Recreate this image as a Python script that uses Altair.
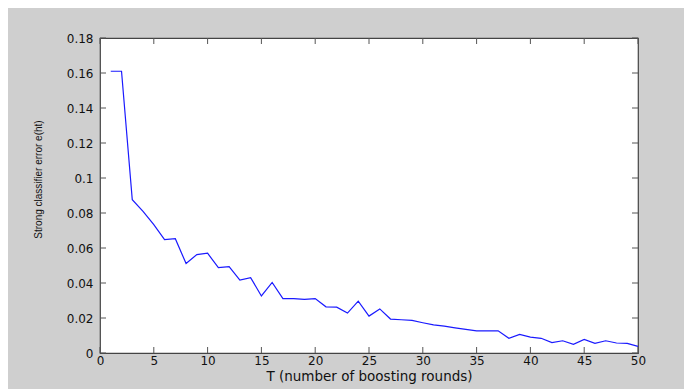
import altair as alt
import pandas as pd

rounds = list(range(1, 51))
errors = [0.161, 0.161, 0.0876, 0.0809, 0.0734, 0.0648, 0.0653, 0.0511, 0.0562, 0.0570,
          0.0488, 0.0494, 0.0416, 0.0431, 0.0326, 0.0403, 0.0311, 0.0311, 0.0306, 0.0311,
          0.0264, 0.0262, 0.0228, 0.0296, 0.0211, 0.0252, 0.0194, 0.0190, 0.0186, 0.0173,
          0.0161, 0.0154, 0.0144, 0.0135, 0.0127, 0.0127, 0.0127, 0.0084, 0.0106, 0.0091,
          0.0084, 0.0059, 0.0070, 0.0050, 0.0078, 0.0055, 0.0070, 0.0057, 0.0055, 0.0038]
x_ticks = [0, 5, 10, 15, 20, 25, 30, 35, 40, 45, 50]
y_ticks = [0, 0.02, 0.04, 0.06, 0.08, 0.1, 0.12, 0.14, 0.16, 0.18]

W, H = 538, 315
TICK = 6

df = pd.DataFrame({"T": rounds, "err": errors})
xdf = pd.DataFrame({"v": x_ticks})
ydf = pd.DataFrame({"v": y_ticks})

xscale = alt.Scale(domain=[0, 50], nice=False, zero=False)
yscale = alt.Scale(domain=[0, 0.18], nice=False, zero=False)

xaxis = alt.Axis(values=x_ticks, title="T (number of boosting rounds)",
                 tickSize=0, domain=False, grid=False, labelPadding=2,
                 labelOverlap=False, labelFlush=False,
                 labelFont="DejaVu Sans", labelFontSize=12, labelColor="#111111",
                 titleFont="DejaVu Sans", titleFontSize=13.5, titleFontWeight="normal",
                 titleColor="#111111", titlePadding=3)
yaxis = alt.Axis(values=y_ticks, format="~g", title="Strong classifier error e(ht)",
                 tickSize=0, domain=False, grid=False, labelPadding=7,
                 labelOverlap=False, labelFlush=False,
                 labelFont="DejaVu Sans", labelFontSize=12, labelColor="#111111",
                 titleFont="Liberation Sans", titleFontSize=10, titleFontWeight="normal",
                 titleColor="#111111", titlePadding=23, titleY=141)

line = alt.Chart(df).mark_line(color="#1a1aff", strokeWidth=1.2).encode(
    x=alt.X("T:Q", scale=xscale, axis=xaxis),
    y=alt.Y("err:Q", scale=yscale, axis=yaxis),
)

tcol = "#555555"
bottom_ticks = alt.Chart(xdf).mark_rule(color=tcol).encode(
    x=alt.X("v:Q", scale=xscale, axis=xaxis), y=alt.value(H), y2=alt.value(H - TICK))
top_ticks = alt.Chart(xdf).mark_rule(color=tcol).encode(
    x=alt.X("v:Q", scale=xscale, axis=xaxis), y=alt.value(0), y2=alt.value(TICK))
left_ticks = alt.Chart(ydf).mark_rule(color=tcol).encode(
    y=alt.Y("v:Q", scale=yscale, axis=yaxis), x=alt.value(0), x2=alt.value(TICK))
right_ticks = alt.Chart(ydf).mark_rule(color=tcol).encode(
    y=alt.Y("v:Q", scale=yscale, axis=yaxis), x=alt.value(W), x2=alt.value(W - TICK))

chart = alt.layer(line, bottom_ticks, top_ticks, left_ticks, right_ticks).properties(
    width=W, height=H,
    autosize=alt.AutoSizeParams(type="none"),
    padding={"left": 92, "top": 30, "right": 46, "bottom": 36},
    background="#cfcfcf",
).configure_view(stroke="#444444", strokeWidth=1.2, fill="white")

chart.save("out.html", embed_options={"renderer": "svg", "actions": False})
